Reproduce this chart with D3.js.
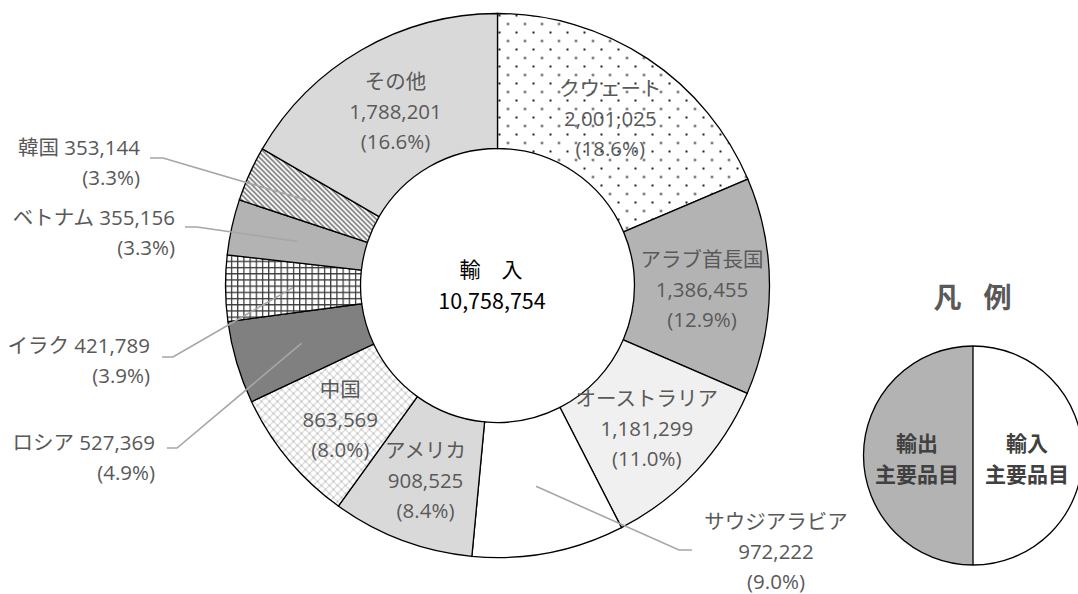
<!DOCTYPE html>
<html>
<head>
<meta charset="utf-8">
<script src="https://cdn.jsdelivr.net/npm/d3@7/dist/d3.min.js"></script>
<style>
  body { margin: 0; background: #fff; }
  text { font-family: "Open Sans", "Noto Sans CJK JP", sans-serif; }
</style>
</head>
<body>
<svg id="chart" width="1078" height="594"></svg>
<script>
// data (clockwise from 12 o'clock)
var countries = ["クウェート", "アラブ首長国", "オーストラリア", "サウジアラビア", "アメリカ",
                 "中国", "ロシア", "イラク", "ベトナム", "韓国", "その他"];
var imports = [2001025, 1386455, 1181299, 972222, 908525, 863569, 527369, 421789, 355156, 353144, 1788201];
var centerTitle = "輸　入";
var legendTitle = ["凡", "例"];
var legendLeftText = ["輸出", "主要品目"];
var legendRightText = ["輸入", "主要品目"];

var formatComma = d3.format(",");
var formatPct = d3.format(".1%");

// slice fills (style only)
var sliceFill = {
  "クウェート": "url(#dots)",
  "アラブ首長国": "#b3b3b3",
  "オーストラリア": "#f0f0f0",
  "サウジアラビア": "#ffffff",
  "アメリカ": "#d9d9d9",
  "中国": "url(#diamond)",
  "ロシア": "#808080",
  "イラク": "url(#grid)",
  "ベトナム": "#b3b3b3",
  "韓国": "url(#stripes)",
  "その他": "#d9d9d9"
};

// labels that sit outside the ring: text anchor point and elbow of the leader
var outsideLabel = {
  "韓国":         {x: 140, y: 147, anchor: "end",    lx: [150, 163], ly: 158},
  "ベトナム":     {x: 175, y: 217, anchor: "end",    lx: [185, 197], ly: 227},
  "イラク":       {x: 150, y: 345, anchor: "end",    lx: [162, 173], ly: 357},
  "ロシア":       {x: 155, y: 442, anchor: "end",    lx: [167, 177], ly: 448},
  "サウジアラビア": {x: 776, y: 521, anchor: "middle", lx: [692, 679], ly: 550}
};

var cx = 497.5, cy = 285.5, rOuter = 272, rInner = 137;
var fs = 20.5;

var svg = d3.select("#chart");
var defs = svg.append("defs");

// dotted pattern
var pDots = defs.append("pattern").attr("id", "dots")
    .attr("patternUnits", "userSpaceOnUse").attr("width", 17).attr("height", 17);
pDots.append("rect").attr("width", 17).attr("height", 17).attr("fill", "#fff");
pDots.append("rect").attr("x", 1).attr("y", 1).attr("width", 2).attr("height", 2).attr("fill", "#222");
pDots.append("rect").attr("x", 9.5).attr("y", 9.5).attr("width", 2).attr("height", 2).attr("fill", "#222");

// grid pattern
var pGrid = defs.append("pattern").attr("id", "grid")
    .attr("patternUnits", "userSpaceOnUse").attr("width", 6.2).attr("height", 6.2);
pGrid.append("rect").attr("width", 6.2).attr("height", 6.2).attr("fill", "#fff");
pGrid.append("path").attr("d", "M0,0.6H6.2M0.6,0V6.2")
    .attr("stroke", "#3a3a3a").attr("stroke-width", 1.3);

// diagonal stripes
var pStr = defs.append("pattern").attr("id", "stripes")
    .attr("patternUnits", "userSpaceOnUse").attr("width", 5).attr("height", 5);
pStr.append("rect").attr("width", 5).attr("height", 5).attr("fill", "#fff");
pStr.append("path").attr("d", "M-1,-1L6,6M-1,4L1,6M4,-1L6,1")
    .attr("stroke", "#3a3a3a").attr("stroke-width", 1.2);

// light diamond crosshatch
var pDia = defs.append("pattern").attr("id", "diamond")
    .attr("patternUnits", "userSpaceOnUse").attr("width", 8).attr("height", 8);
pDia.append("rect").attr("width", 8).attr("height", 8).attr("fill", "#fff");
pDia.append("path").attr("d", "M0,0L8,8M8,0L0,8")
    .attr("stroke", "#b5b5b5").attr("stroke-width", 0.9);

var data = countries.map(function(c, i) { return {name: c, value: imports[i]}; });
var total = d3.sum(imports);

var pie = d3.pie().sort(null).value(function(d) { return d.value; });
var arc = d3.arc().innerRadius(rInner).outerRadius(rOuter);
var arcs = pie(data);

var g = svg.append("g").attr("transform", "translate(" + cx + "," + cy + ")");

g.selectAll("path.slice")
  .data(arcs)
  .enter().append("path")
  .attr("class", "slice")
  .attr("d", arc)
  .attr("fill", function(d) { return sliceFill[d.data.name]; })
  .attr("stroke", "#000")
  .attr("stroke-width", 1.3);

// leader lines
arcs.forEach(function(d) {
  var o = outsideLabel[d.data.name];
  if (!o) return;
  var c = arc.centroid(d);
  var pts = [[o.lx[0], o.ly], [o.lx[1], o.ly], [c[0] + cx, c[1] + cy]];
  svg.append("path")
    .attr("d", d3.line()(pts))
    .attr("fill", "none")
    .attr("stroke", "#a6a6a6")
    .attr("stroke-width", 1.6);
});

function addText(x, y, anchor, s) {
  return svg.append("text")
    .attr("x", x).attr("y", y)
    .attr("text-anchor", anchor)
    .attr("dominant-baseline", "central")
    .attr("font-size", fs)
    .attr("fill", "#595959")
    .text(s);
}

// labels
arcs.forEach(function(d) {
  var name = d.data.name;
  var valTxt = formatComma(d.data.value);
  var pctTxt = "(" + formatPct(d.data.value / total) + ")";
  var o = outsideLabel[name];
  if (!o) {
    var c = arc.centroid(d);
    var x = c[0] + cx, y = c[1] + cy + 3;
    [name, valTxt, pctTxt].forEach(function(s, i) {
      addText(x, y + (i - 1) * 30, "middle", s);
    });
  } else if (o.anchor === "middle") {
    [name, valTxt, pctTxt].forEach(function(s, i) {
      addText(o.x, o.y + i * 30, "middle", s);
    });
  } else {
    addText(o.x, o.y, "end", name + " " + valTxt);
    addText(o.x, o.y + 30, "end", pctTxt);
  }
});

// centre text
svg.append("text")
  .attr("x", 491).attr("y", 268)
  .attr("text-anchor", "middle").attr("dominant-baseline", "central")
  .style("font-family", "'Noto Sans CJK JP'")
  .attr("font-size", 21).attr("fill", "#000")
  .text(centerTitle);
svg.append("text")
  .attr("x", 492).attr("y", 299)
  .attr("text-anchor", "middle").attr("dominant-baseline", "central")
  .style("font-family", "'Noto Sans CJK JP'")
  .attr("font-size", 21.5).attr("fill", "#000")
  .text(formatComma(total));

// legend
var lx = 973, ly = 455.5, lr = 109.5;
var legendArc = d3.arc().innerRadius(0).outerRadius(lr);
var lg = svg.append("g").attr("transform", "translate(" + lx + "," + ly + ")");
lg.append("path")
  .attr("d", legendArc({startAngle: Math.PI, endAngle: 2 * Math.PI}))
  .attr("fill", "#b3b3b3");
lg.append("path")
  .attr("d", legendArc({startAngle: 0, endAngle: Math.PI}))
  .attr("fill", "#fff");
lg.append("circle").attr("r", lr).attr("fill", "none").attr("stroke", "#000").attr("stroke-width", 1.3);
lg.append("line").attr("x1", 0).attr("x2", 0).attr("y1", -lr).attr("y2", lr)
  .attr("stroke", "#000").attr("stroke-width", 1.3);

[[legendLeftText, 917], [legendRightText, 1027]].forEach(function(p) {
  p[0].forEach(function(s, i) {
    svg.append("text")
      .attr("x", p[1]).attr("y", 442 + i * 31)
      .attr("text-anchor", "middle").attr("dominant-baseline", "central")
      .style("font-family", "'Noto Sans CJK JP'")
      .attr("font-weight", 700)
      .attr("font-size", 21).attr("fill", "#404040")
      .text(s);
  });
});

legendTitle.forEach(function(s, i) {
  svg.append("text")
    .attr("x", 947.5 + i * 50).attr("y", 296)
    .attr("text-anchor", "middle").attr("dominant-baseline", "central")
    .style("font-family", "'Noto Sans CJK JP'")
    .attr("font-weight", 700)
    .attr("font-size", 28).attr("fill", "#595959")
    .text(s);
});
</script>
</body>
</html>
